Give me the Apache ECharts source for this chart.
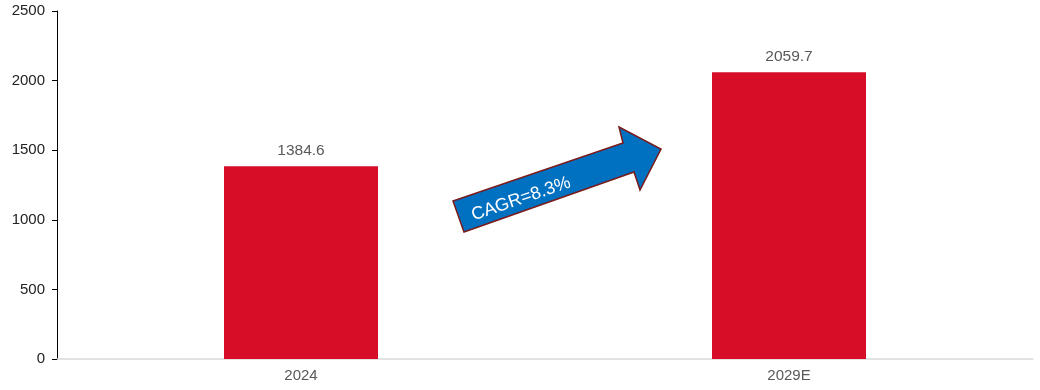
<!DOCTYPE html>
<html><head><meta charset="utf-8">
<script src="https://cdn.jsdelivr.net/npm/echarts@6/dist/echarts.min.js"></script>
<style>html,body{margin:0;padding:0;background:#fff}#c{width:1040px;height:390px}</style>
</head><body><div id="c"></div>
<script>
const categories = ['2024', '2029E'];
const values = [1384.6, 2059.7];
const yTicks = [0, 500, 1000, 1500, 2000, 2500];
const cagrLabel = 'CAGR=8.3%';

const chart = echarts.init(document.getElementById('c'), null, {renderer: 'canvas'});
const font = '"Liberation Sans", Arial, sans-serif';
chart.setOption({
  animation: false,
  backgroundColor: '#fff',
  grid: {left: 57, right: 7, top: 11, bottom: 31, containLabel: false},
  xAxis: {
    type: 'category', data: categories,
    axisLine: {lineStyle: {color: '#d9d9d9', width: 1.5}},
    axisTick: {show: false},
    axisLabel: {color: '#595959', fontSize: 15, fontFamily: font, margin: 9}
  },
  yAxis: {
    type: 'value', min: yTicks[0], max: yTicks[yTicks.length - 1], interval: 500,
    axisLine: {show: true, lineStyle: {color: '#000', width: 1}},
    axisTick: {show: true, length: 5, lineStyle: {color: '#000'}},
    splitLine: {show: false},
    axisLabel: {color: '#222', fontSize: 15, fontFamily: font, margin: 12, formatter: v => String(v)}
  },
  series: [{
    type: 'bar', data: values, barWidth: 154,
    itemStyle: {color: '#D70C26'},
    label: {show: true, position: 'top', distance: 8, color: '#595959', fontSize: 15.5, fontFamily: font,
      formatter: p => p.value.toFixed(1)}
  }],
  graphic: [{
    type: 'polygon',
    shape: {points: [[453,201],[623,143],[619,127],[661,149],[640,190],[634,172],[464,232]]},
    style: {fill: '#0070C0', stroke: '#7a1a1a', lineWidth: 1.5},
    z: 10
  }, {
    type: 'text',
    x: 521, y: 199, rotation: 19 * Math.PI / 180,
    style: {text: cagrLabel, fill: '#fff', font: '18px ' + font, align: 'center', verticalAlign: 'middle'},
    z: 11
  }]
});
</script></body></html>
